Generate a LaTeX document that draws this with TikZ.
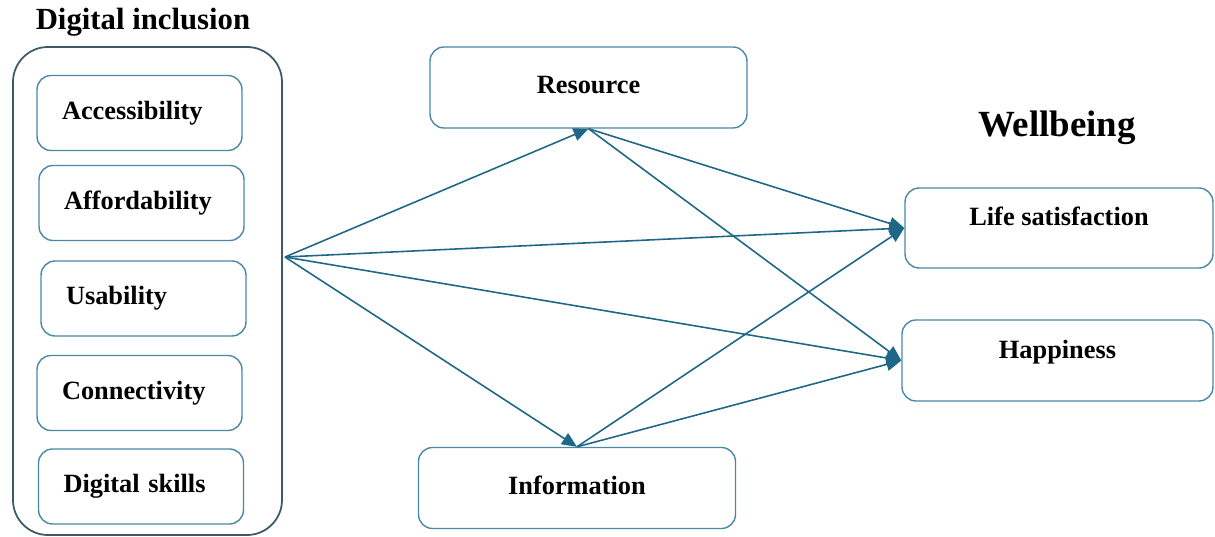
\documentclass[tikz,border=0pt]{standalone}
\usepackage{fontspec}
\setmainfont{Liberation Serif}
\usetikzlibrary{arrows.meta}

\definecolor{boxblue}{HTML}{4A88A6}
\definecolor{linkblue}{HTML}{1F6786}
\definecolor{framegray}{HTML}{3B5968}

\tikzset{
    item/.style={draw=boxblue, line width=0.8pt, rounded corners=0.28cm,
        text width=3.1cm, inner xsep=0.5cm, align=left, minimum height=1.5cm,
        font=\fontsize{15}{18}\selectfont\bfseries, text height=0.37cm, text depth=0.12cm},
    mediator/.style={draw=boxblue, line width=0.8pt, rounded corners=0.28cm,
        minimum width=6.34cm, minimum height=1.62cm,
        font=\fontsize{15}{18}\selectfont\bfseries, text height=0.37cm, text depth=0.12cm},
    outcome/.style={mediator, text depth=0.45cm},
    heading/.style={font=\fontsize{17.5}{21}\selectfont\bfseries},
    link/.style={draw=linkblue, line width=0.9pt, -{Triangle[length=0.3cm, width=0.26cm]}}
}

\begin{document}
\begin{tikzpicture}[x=0.02cm, y=-0.02cm]
    \useasboundingbox (0,0) rectangle (1215,537);

    % digital inclusion block
    \node[heading] (inctitle) at (143,22) {Digital inclusion};
    \draw[framegray, line width=1pt, rounded corners=0.7cm] (13,47) rectangle (282,535);
    \node[item] (acc) at (139.5,113) {Accessibility};
    \node[item] (aff) at (141.5,203) {Affordability};
    \node[item] (usa) at (143.5,298.5) {Usability};
    \node[item] (con) at (139.5,393) {Connectivity};
    \node[item] (dig) at (141,486.5) {Digital skills};
    \coordinate (src) at (285,257);

    % mediators
    \node[mediator] (res) at (588.5,87.5) {Resource};
    \node[mediator] (info) at (577,488) {Information};

    % wellbeing
    \node[heading, font=\fontsize{21}{25}\selectfont\bfseries] (welltitle) at (1057,128) {Wellbeing};
    \node[outcome, minimum width=6.16cm, minimum height=1.6cm] (life) at (1059,228) {Life satisfaction};
    \node[outcome, minimum width=6.22cm] (hap) at (1057.5,360.5) {Happiness};

    % paths
    \draw[link] (src) -- (res.south);
    \draw[link] (src) -- (life.west);
    \draw[link] (src) -- (hap.west);
    \draw[link] (src) -- (info.north);
    \draw[link] (res.south) -- (life.west);
    \draw[link] (res.south) -- (hap.west);
    \draw[link] (info.north) -- (life.west);
    \draw[link] (info.north) -- (hap.west);
\end{tikzpicture}
\end{document}
